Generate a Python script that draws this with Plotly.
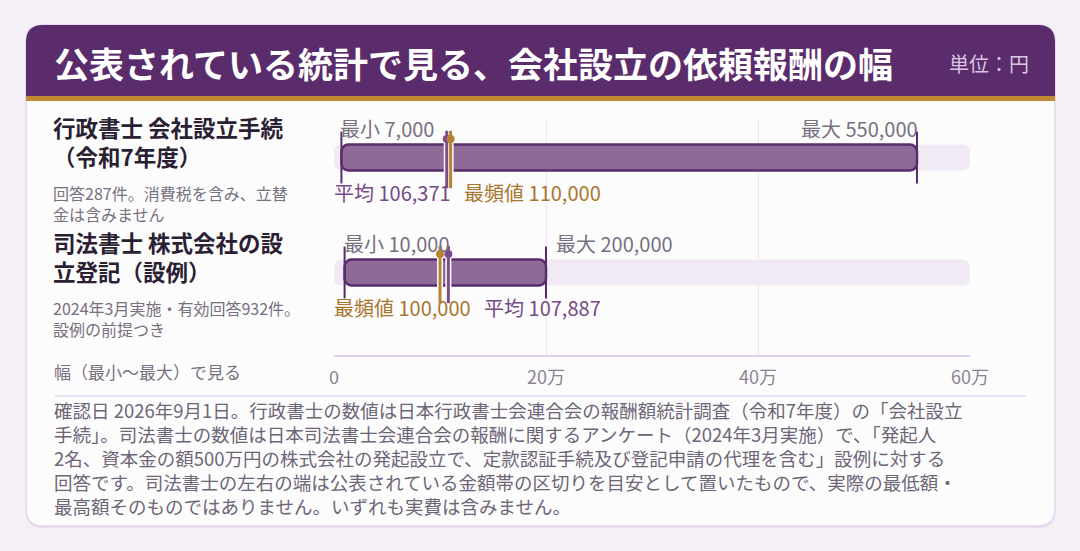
import plotly.graph_objects as go

# Data
rows = [0, 1]
row_titles = ["行政書士 会社設立手続<br>（令和7年度）", "司法書士 株式会社の設<br>立登記（設例）"]
row_notes = ["回答287件。消費税を含み、立替<br>金は含みません", "2024年3月実施・有効回答932件。<br>設例の前提つき"]
mins = [7000, 10000]
maxs = [550000, 200000]
means = [106371, 107887]
modes = [110000, 100000]
tick_vals = [0, 200000, 400000, 600000]
tick_text = ["0", "20万", "40万", "60万"]

chart_title = "公表されている統計で見る、会社設立の依頼報酬の幅"
unit_label = "単位：円"
axis_note = "幅（最小〜最大）で見る"
footer_lines = [
    "確認日 2026年9月1日。行政書士の数値は日本行政書士会連合会の報酬額統計調査（令和7年度）の「会社設立",
    "手続」。司法書士の数値は日本司法書士会連合会の報酬に関するアンケート（2024年3月実施）で、「発起人",
    "2名、資本金の額500万円の株式会社の発起設立で、定款認証手続及び登記申請の代理を含む」設例に対する",
    "回答です。司法書士の左右の端は公表されている金額帯の区切りを目安として置いたもので、実際の最低額・",
    "最高額そのものではありません。いずれも実費は含みません。",
]

# Colours
PAGE = "#f5f0f7"
CARD = "#fdfcfd"
HEADER = "#5b2c6b"
GOLD = "#c08a35"
TRACK = "#f1e9f3"
FILL = "#8d6a98"
EDGE = "#5a2c6b"
MEAN_C = "#7b4b8c"
MODE_C = "#b8832e"
MEAN_TXT = "#744a86"
MODE_TXT = "#a8762c"
GRAY = "#77707f"
DARK = "#2b1f33"
FONT = "Noto Sans CJK JP"

W, H = 1080, 551
ROW_PX = 115          # pixel distance between the two rows
unit = 1 / ROW_PX     # one pixel in y data units
BAR_W = 26 * unit


def px(x):
    return x / W


def py(y):
    return 1 - y / H


def rounded(x0, y0, x1, y1, r, top_only=False):
    rb = 0 if top_only else r
    pts = [
        ("M", [(x0 + r, y0)]), ("L", [(x1 - r, y0)]), ("Q", [(x1, y0), (x1, y0 + r)]),
        ("L", [(x1, y1 - rb)]), ("Q", [(x1, y1), (x1 - rb, y1)]),
        ("L", [(x0 + rb, y1)]), ("Q", [(x0, y1), (x0, y1 - rb)]),
        ("L", [(x0, y0 + r)]), ("Q", [(x0, y0), (x0 + r, y0)]),
    ]
    path = ""
    for cmd, ps in pts:
        path += cmd + " ".join(f"{px(a):.5f},{py(b):.5f}" for a, b in ps) + " "
    return path + "Z"


fig = go.Figure()

# background track over the whole scale and the min-max bar
fig.add_trace(go.Bar(y=rows, x=[tick_vals[-1] - tick_vals[0]] * len(rows), base=tick_vals[0],
                     orientation="h", width=BAR_W, marker=dict(color=TRACK, line=dict(width=0)),
                     hoverinfo="skip"))
fig.add_trace(go.Bar(y=rows, x=[b - a for a, b in zip(mins, maxs)], base=mins,
                     orientation="h", width=BAR_W,
                     marker=dict(color=FILL, line=dict(color=EDGE, width=2.5)),
                     hoverinfo="skip"))

# end caps
fig.add_trace(go.Scatter(x=mins + maxs, y=rows + rows, mode="markers", hoverinfo="skip",
                         marker=dict(symbol="line-ns", size=37, color=EDGE,
                                     line=dict(color=EDGE, width=2))))

# mean / mode pins
pins = [(means, MEAN_C), (modes, MODE_C)]
line_y = [r + 2 * unit for r in rows]
dot_y = [r - 18.5 * unit for r in rows]
for vals, col in pins:
    fig.add_trace(go.Scatter(x=vals, y=line_y, mode="markers", hoverinfo="skip",
                             marker=dict(symbol="line-ns", size=41, color="white",
                                         line=dict(color="white", width=6))))
for vals, col in pins:
    fig.add_trace(go.Scatter(x=vals, y=line_y, mode="markers", hoverinfo="skip",
                             marker=dict(symbol="line-ns", size=41, color=col,
                                         line=dict(color=col, width=3))))
    fig.add_trace(go.Scatter(x=vals, y=dot_y, mode="markers", hoverinfo="skip",
                             marker=dict(symbol="circle", size=8, color=col, line=dict(width=0))))

ann = []
for i, r in enumerate(rows):
    ann.append(dict(x=mins[i], y=r, text=f"最小 {mins[i]:,}", xanchor="left", yanchor="middle",
                    yshift=29.5, xshift=-3, font=dict(size=20, color=GRAY), showarrow=False))
    inside = maxs[i] - mins[i] > 300000
    ann.append(dict(x=maxs[i], y=r, text=f"最大 {maxs[i]:,}",
                    xanchor="right" if inside else "left", yanchor="middle",
                    yshift=29.5, xshift=3 if inside else 8,
                    font=dict(size=20, color=GRAY), showarrow=False))
    parts = sorted([(means[i], "平均", MEAN_TXT), (modes[i], "最頻値", MODE_TXT)])
    below = "&nbsp;&nbsp;&nbsp;".join(
        f"<span style='color:{c}'>{name} {v:,}</span>" for v, name, c in parts)
    ann.append(dict(x=tick_vals[0], y=r, text=below, xanchor="left", yanchor="middle",
                    yshift=-34.5, xshift=-2, font=dict(size=20), showarrow=False))
    # row title and note on the left
    ann.append(dict(xref="paper", x=px(52), y=r, text=row_titles[i], xanchor="left",
                    yanchor="middle", yshift=16, align="left", borderpad=0,
                    font=dict(size=22.5, color=DARK, weight="bold"), showarrow=False))
    ann.append(dict(xref="paper", x=px(52), y=r, text=row_notes[i], xanchor="left",
                    yanchor="middle", yshift=-46, align="left", borderpad=0,
                    font=dict(size=16, color=GRAY), showarrow=False))

ann.append(dict(xref="paper", yref="paper", x=px(52), y=py(62), text=chart_title,
                xanchor="left", yanchor="middle", showarrow=False,
                font=dict(size=35, color="white", weight="bold")))
ann.append(dict(xref="paper", yref="paper", x=px(1031), y=py(63), text=unit_label,
                xanchor="right", yanchor="middle", showarrow=False,
                font=dict(size=20, color="#d8c6e2")))
ann.append(dict(xref="paper", yref="paper", x=px(52), y=py(371), text=axis_note,
                xanchor="left", yanchor="middle", showarrow=False,
                font=dict(size=17, color=GRAY)))
ann.append(dict(xref="paper", yref="paper", x=px(52), y=py(458), text="<br>".join(footer_lines),
                xanchor="left", yanchor="middle", align="left", showarrow=False,
                font=dict(size=18.5, color="#6d6677")))

shapes = [
    dict(type="path", xref="paper", yref="paper", path=rounded(26, 28, 1055, 528, 17),
         fillcolor="#e6dcee", line=dict(width=0), layer="below"),
    dict(type="path", xref="paper", yref="paper", path=rounded(26, 25, 1055, 526, 17),
         fillcolor=CARD, line=dict(color="#e2d6ec", width=1.5), layer="below"),
    dict(type="path", xref="paper", yref="paper", path=rounded(26, 25, 1055, 96, 17, top_only=True),
         fillcolor=HEADER, line=dict(width=0), layer="below"),
    dict(type="rect", xref="paper", yref="paper", x0=px(26), x1=px(1055), y0=py(101), y1=py(96),
         fillcolor=GOLD, line=dict(width=0), layer="below"),
    dict(type="line", xref="paper", yref="paper", x0=px(55), x1=px(1026), y0=py(396), y1=py(396),
         line=dict(color="#e4daec", width=1.5), layer="below"),
]

fig.update_layout(
    width=W, height=H, margin=dict(l=0, r=0, t=0, b=0, autoexpand=False),
    paper_bgcolor=PAGE, plot_bgcolor="rgba(0,0,0,0)",
    font=dict(family=FONT), showlegend=False, barmode="overlay", barcornerradius=7,
    xaxis=dict(domain=[px(334), px(970)], range=[tick_vals[0], tick_vals[-1]],
               tickvals=tick_vals, ticktext=tick_text, showgrid=True, gridcolor="#eee6f2",
               gridwidth=1, zeroline=False, showline=True, linecolor="#e0d3e9", linewidth=1.5,
               ticks="", ticklabelstandoff=6, tickfont=dict(size=18, color="#8a8392"),
               automargin=False, fixedrange=True),
    yaxis=dict(domain=[py(355), py(118)],
               range=[1 + (355 - 272.5) * unit, -(157.5 - 118) * unit],
               visible=False, automargin=False, fixedrange=True),
    annotations=ann, shapes=shapes,
)

fig.write_html("out.html", config={"displayModeBar": False},
               post_script="document.body.style.margin='0';")
